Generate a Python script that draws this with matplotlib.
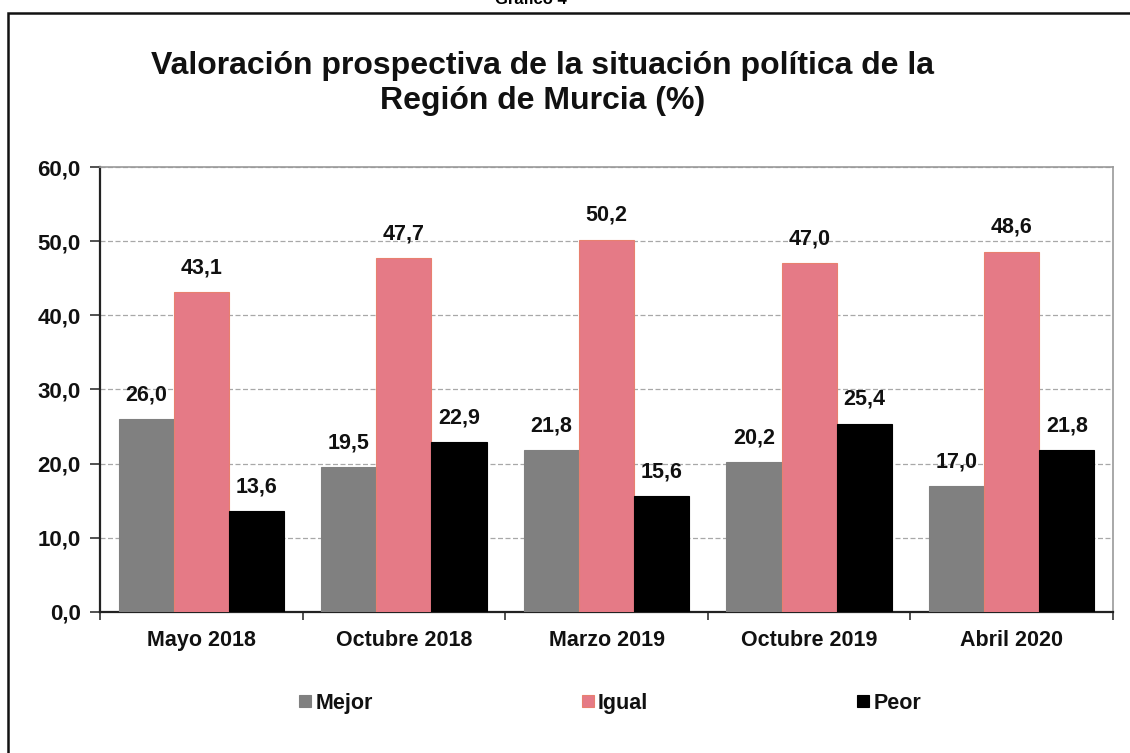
import numpy as np
import matplotlib
matplotlib.use("Agg")
import matplotlib.pyplot as plt
from matplotlib.patches import Rectangle

plt.rcParams["font.family"] = ["Liberation Sans", "DejaVu Sans"]

# %%
## Data ##
periodos = ["Mayo 2018", "Octubre 2018", "Marzo 2019", "Octubre 2019", "Abril 2020"]
series = ["Mejor", "Igual", "Peor"]
mejor = [26.0, 19.5, 21.8, 20.2, 17.0]
igual = [43.1, 47.7, 50.2, 47.0, 48.6]
peor = [13.6, 22.9, 15.6, 25.4, 21.8]
colores = ["#808080", "#E57A86", "#000000"]
y_ticks = [0, 10, 20, 30, 40, 50, 60]

# %%
## Plot ##
fig = plt.figure(figsize=(11.3, 7.53), dpi=100)
ax = fig.add_axes([0.0885, 0.1873, 0.8965, 0.5909])

x = np.arange(len(periodos))
ancho = 0.272
handles = []
for i, (nombre, valores, color) in enumerate(zip(series, [mejor, igual, peor], colores)):
    pos = x + (i - 1) * ancho
    edge = "#E8806F" if nombre == "Igual" else color
    b = ax.bar(pos, valores, width=ancho, color=color, edgecolor=edge,
               linewidth=0.8, label=nombre, zorder=3)
    handles.append(b)
    for xx, v in zip(pos, valores):
        ax.annotate(f"{v:.1f}".replace(".", ","), (xx, v), xytext=(0, 10),
                    textcoords="offset points", ha="center", va="bottom",
                    fontsize=15.5, fontweight="bold", color="#111111")

ax.set_xlim(-0.5, len(periodos) - 0.5)
ax.set_ylim(0, 60)
ax.set_yticks(y_ticks)
ax.set_yticklabels([f"{t:.1f}".replace(".", ",") for t in y_ticks],
                   fontsize=16, fontweight="bold", color="#111111")
ax.set_xticks(x)
ax.set_xticklabels(periodos, fontsize=15.5, fontweight="bold", color="#111111")
ax.set_xticks(np.arange(-0.5, len(periodos)), minor=True)
ax.tick_params(axis="x", which="major", length=0, pad=13)
ax.tick_params(axis="x", which="minor", length=6, width=1.2, direction="out", color="#333333")
ax.tick_params(axis="y", length=7, width=1.2, direction="out", color="#333333", pad=7)

ax.yaxis.grid(True, linestyle=(0, (4, 2)), color="#A8A8A8", linewidth=0.9, zorder=0)
for s in ["top", "right"]:
    ax.spines[s].set_color("#999999")
    ax.spines[s].set_linewidth(1.2)
for s in ["left", "bottom"]:
    ax.spines[s].set_color("#222222")
    ax.spines[s].set_linewidth(1.6)

fig.text(0.48, 0.913, "Valoración prospectiva de la situación política de la",
         ha="center", va="center", fontsize=23, fontweight="bold", color="#111111")
fig.text(0.48, 0.866, "Región de Murcia (%)",
         ha="center", va="center", fontsize=23, fontweight="bold", color="#111111")
fig.text(0.47, 1.0, "Gráfico 4", ha="center", va="center",
         fontsize=12, fontweight="bold")

leg = fig.legend(handles=handles, labels=series, loc="center",
                 bbox_to_anchor=(0.54, 0.066), ncol=3, frameon=False,
                 fontsize=15.5, handlelength=0.56, handleheight=0.47,
                 handletextpad=0.2, columnspacing=9.7)
for t in leg.get_texts():
    t.set_fontweight("bold")
    t.set_color("#111111")

# outer frame
fig.add_artist(Rectangle((8 / 1130, -0.05), 1.2, 1 - 13 / 753 + 0.05,
                         transform=fig.transFigure, fill=False,
                         edgecolor="#111111", linewidth=1.8))

fig.savefig("out.png", dpi=100)
